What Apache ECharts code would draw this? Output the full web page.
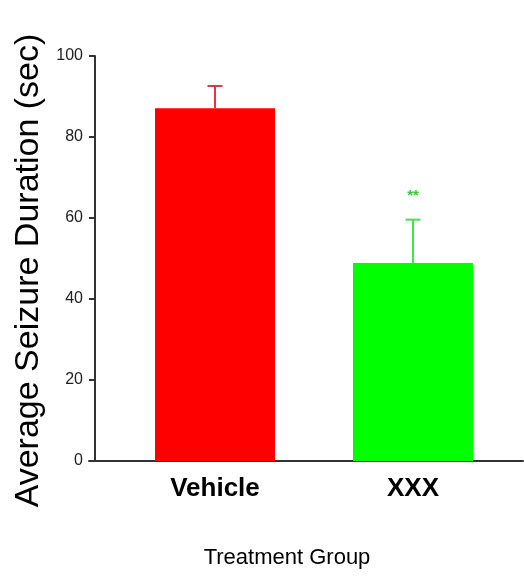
<!DOCTYPE html>
<html>
<head>
<meta charset="utf-8">
<script src="https://cdn.jsdelivr.net/npm/echarts@6/dist/echarts.min.js"></script>
<style>html,body{margin:0;padding:0;background:#fff;}#c{width:524px;height:576px;}</style>
</head>
<body>
<div id="c"></div>
<script>
var categories = ['Vehicle', 'XXX'];
var means = [87.1, 48.9];
var sems = [5.5, 10.7];
var sigLabels = ['', '**'];
var yTicks = [0, 20, 40, 60, 80, 100];
var barColors = ['#ff0000', '#00ff00'];
var errColors = ['#e23540', '#3ee83e'];

var chart = echarts.init(document.getElementById('c'), null, {renderer: 'canvas'});
var errData = categories.map(function (c, i) { return [i, means[i], sems[i], sigLabels[i]]; });

chart.setOption({
  animation: false,
  backgroundColor: '#fff',
  grid: [
    {left: 116, right: 12, top: 56, bottom: 115},
    {left: 89, right: 1, top: 56, bottom: 115}
  ],
  xAxis: [{
    type: 'category', gridIndex: 0, data: categories,
    axisLine: {show: false}, axisTick: {show: false},
    axisLabel: {margin: 15, fontFamily: 'Liberation Sans', fontWeight: 'bold', fontSize: 26, color: '#000'},
    name: 'Treatment Group', nameLocation: 'middle', nameGap: 86,
    nameTextStyle: {fontFamily: 'Liberation Sans', fontSize: 22, color: '#000', padding: [0, 54, 0, 0]}
  }, {
    type: 'value', gridIndex: 1, min: 0, max: 1,
    axisLine: {show: true, onZero: false, lineStyle: {color: '#333', width: 2}},
    axisTick: {show: false}, axisLabel: {show: false}, splitLine: {show: false}
  }],
  yAxis: [{
    type: 'value', gridIndex: 0, min: yTicks[0], max: yTicks[yTicks.length - 1], interval: 20,
    offset: 21,
    axisLine: {show: true, lineStyle: {color: '#333', width: 2}},
    axisTick: {show: true, inside: false, length: 6, lineStyle: {color: '#333', width: 2}},
    axisLabel: {margin: 12, fontFamily: 'Liberation Sans', fontSize: 16, color: '#222'},
    splitLine: {show: false},
    name: 'Average Seizure Duration (sec)', nameLocation: 'middle', nameGap: 46,
    nameTextStyle: {fontFamily: 'Liberation Sans', fontSize: 34, color: '#000', padding: [0, 24, 0, 0]}
  }, {
    type: 'value', gridIndex: 1, show: false, min: 0, max: 1
  }],
  series: [{
    type: 'bar', xAxisIndex: 0, yAxisIndex: 0,
    barWidth: 120,
    data: means.map(function (v, i) { return {value: v, itemStyle: {color: barColors[i]}}; })
  }, {
    type: 'custom', xAxisIndex: 0, yAxisIndex: 0, z: 5,
    data: errData,
    renderItem: function (params, api) {
      var i = api.value(0);
      var base = api.coord([i, api.value(1)]);
      var top = api.coord([i, api.value(1) + api.value(2)]);
      var col = errColors[i];
      var children = [
        {type: 'line', shape: {x1: base[0], y1: base[1], x2: top[0], y2: top[1]}, style: {stroke: col, lineWidth: 2}},
        {type: 'line', shape: {x1: top[0] - 7.5, y1: top[1], x2: top[0] + 7.5, y2: top[1]}, style: {stroke: col, lineWidth: 2}}
      ];
      var lab = sigLabels[i];
      if (lab) {
        children.push({type: 'text', x: top[0], y: top[1] - 24, style: {text: lab, fill: '#3cc43c', font: 'bold 15px Liberation Sans', align: 'center', verticalAlign: 'middle'}});
      }
      return {type: 'group', children: children};
    }
  }]
});
</script>
</body>
</html>
